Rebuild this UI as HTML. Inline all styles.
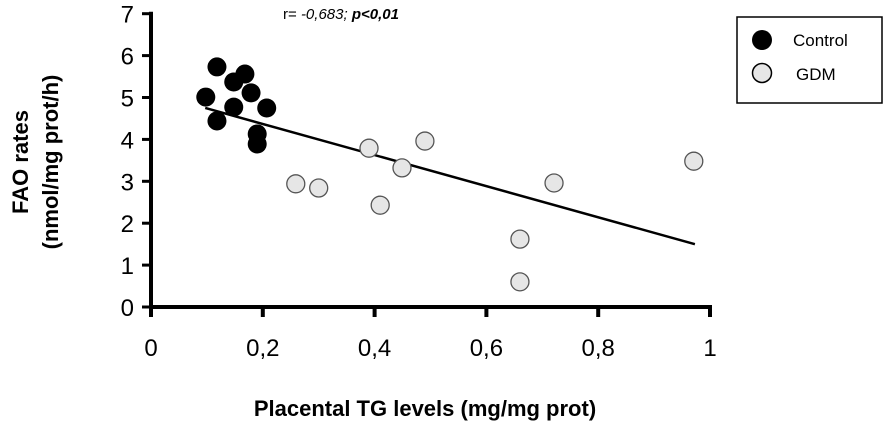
<!DOCTYPE html>
<html><head><meta charset="utf-8"><style>
body{margin:0;background:#fff}
svg{display:block;font-family:"Liberation Sans",sans-serif}
</style></head><body>
<svg id="chart" width="886" height="422" viewBox="0 0 886 422">
<g id="axes"></g>
<g id="marks"></g>
<text x="283" y="19" font-size="15" fill="#000">r= <tspan font-style="italic">-0,683;</tspan> <tspan font-style="italic" font-weight="bold">p&lt;0,01</tspan></text>
<text x="425" y="416" font-size="22" font-weight="bold" text-anchor="middle">Placental  TG levels (mg/mg prot)</text>
<text transform="translate(28,162) rotate(-90)" font-size="22" font-weight="bold" text-anchor="middle">FAO rates</text>
<text transform="translate(58,162) rotate(-90)" font-size="22" font-weight="bold" text-anchor="middle">(nmol/mg prot/h)</text>
<g>
<rect x="737" y="17" width="145" height="86" fill="#fff" stroke="#000" stroke-width="1.5"/>
<circle cx="762" cy="40" r="10" fill="#000"/>
<text x="793" y="46" font-size="17">Control</text>
<circle cx="762" cy="73" r="9.5" fill="#e6e6e6" stroke="#000" stroke-width="1.5"/>
<text x="796" y="80" font-size="17">GDM</text>
</g>
</svg>
<script>
const xTicks=[0,0.2,0.4,0.6,0.8,1];
const xTickLabels=["0","0,2","0,4","0,6","0,8","1"];
const yTicks=[0,1,2,3,4,5,6,7];
const yTickLabels=["0","1","2","3","4","5","6","7"];
const controlX=[0.118,0.098,0.118,0.148,0.168,0.179,0.148,0.207,0.19,0.19];
const controlY=[5.73,5.01,4.44,5.37,5.56,5.11,4.77,4.75,4.13,3.89];
const gdmX=[0.259,0.30,0.39,0.41,0.449,0.49,0.721,0.971,0.66,0.66];
const gdmY=[2.94,2.84,3.79,2.43,3.32,3.96,2.96,3.48,1.62,0.6];
const fitX=[0.097,0.973];
const fitY=[4.75,1.50];
const X0=151,XS=559,Y0=307,YS=41.9;
const sx=v=>X0+v*XS, sy=v=>Y0-v*YS;
const NS="http://www.w3.org/2000/svg";
const ax=document.getElementById('axes'), mk=document.getElementById('marks');
function mkEl(t,a,p){const e=document.createElementNS(NS,t);for(const k in a)e.setAttribute(k,a[k]);p.appendChild(e);return e;}
let e=mkEl('line',{x1:sx(0),y1:sy(7)-2,x2:sx(0),y2:sy(0)+3,stroke:'#000','stroke-width':4},ax);


e=mkEl('line',{x1:sx(0)-2,y1:sy(0),x2:sx(1)+2,y2:sy(0),stroke:'#000','stroke-width':4},ax);


xTicks.forEach((v,i)=>{
 let t=mkEl('line',{x1:sx(v),y1:sy(0),x2:sx(v),y2:sy(0)+10,stroke:'#000','stroke-width':4},ax);
 
 
 let l=mkEl('text',{x:sx(v),y:356,'font-size':24,'text-anchor':'middle'},ax);l.textContent=xTickLabels[i];
 
 
});
yTicks.forEach((v,i)=>{
 let t=mkEl('line',{x1:sx(0)-9,y1:sy(v),x2:sx(0),y2:sy(v),stroke:'#000','stroke-width':3},ax);
 
 
 let l=mkEl('text',{x:134,y:sy(v)+9,'font-size':24,'text-anchor':'end'},ax);l.textContent=yTickLabels[i];
 
 
});
let f=mkEl('line',{x1:sx(fitX[0]),y1:sy(fitY[0]),x2:sx(fitX[1]),y2:sy(fitY[1]),stroke:'#000','stroke-width':2.5},mk);


gdmX.forEach((v,i)=>{
 let c=mkEl('circle',{cx:sx(v),cy:sy(gdmY[i]),r:9,fill:'#e6e6e6',stroke:'#555','stroke-width':1.3},mk);
 
 
});
controlX.forEach((v,i)=>{
 let c=mkEl('circle',{cx:sx(v),cy:sy(controlY[i]),r:9.5,fill:'#000'},mk);
 
 
});
</script>
</body></html>
